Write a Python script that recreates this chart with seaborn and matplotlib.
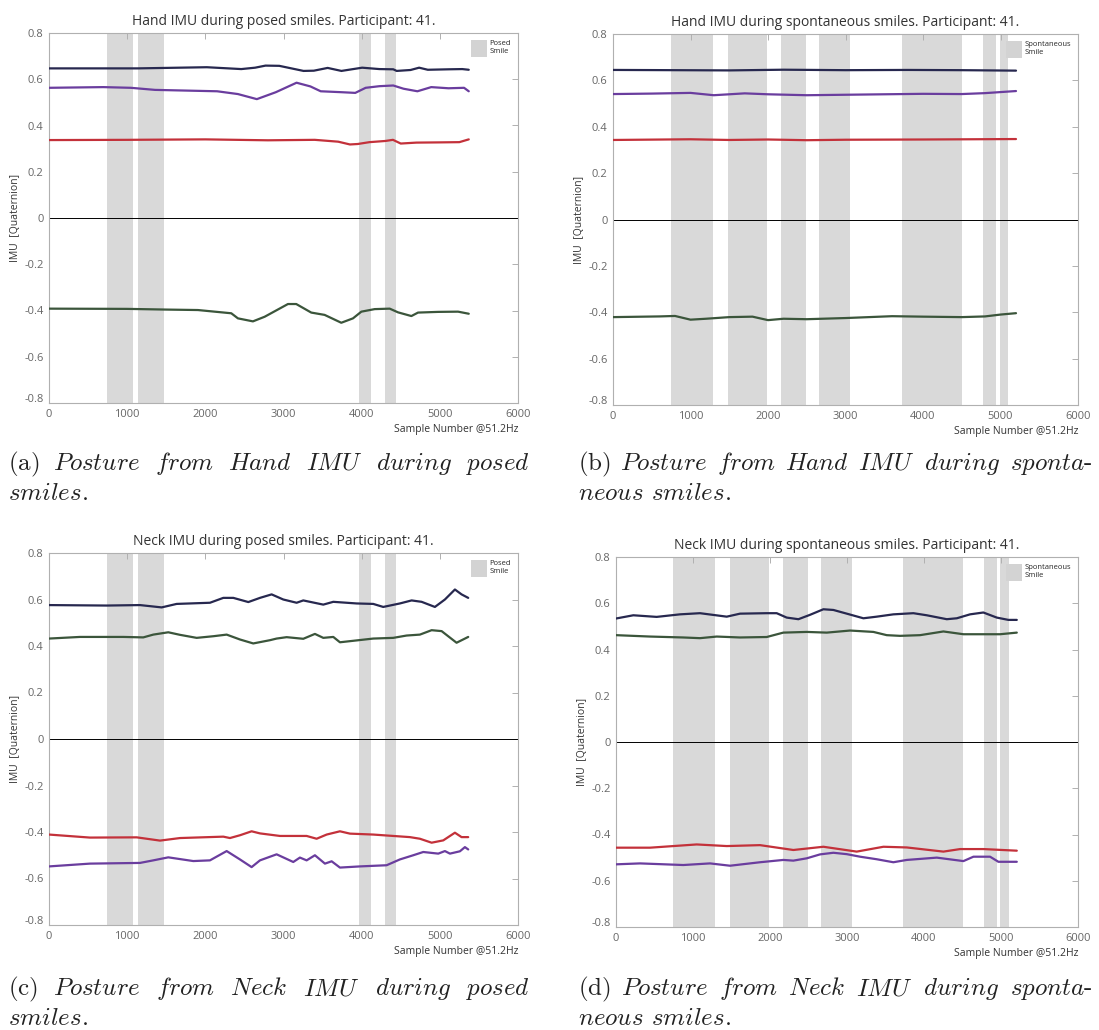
import numpy as np
import matplotlib
matplotlib.use("Agg")
import matplotlib.pyplot as plt
from matplotlib.patches import Patch
from matplotlib.transforms import ScaledTranslation
import seaborn as sns

# ---------------- data ----------------
# smile episodes (sample index start / end)
posed_start = [742, 1138, 3966, 4297]
posed_end = [1077, 1474, 4116, 4438]
spont_start = [745, 1481, 2169, 2663, 3728, 4780, 4988]
spont_end = [1286, 1983, 2490, 3061, 4503, 4945, 5101]

# (a) Hand IMU, posed smiles
a_navy_x = [0, 1135, 2019, 2460, 2637, 2770, 2946, 3256, 3388, 3565, 3741, 4006, 4227, 4404, 4448, 4625, 4735, 4846, 5111, 5287, 5370]
a_navy_y = [0.647, 0.647, 0.652, 0.644, 0.650, 0.659, 0.658, 0.636, 0.637, 0.649, 0.636, 0.650, 0.644, 0.643, 0.636, 0.640, 0.650, 0.641, 0.643, 0.644, 0.641]
a_purple_x = [0, 694, 1047, 1356, 2151, 2416, 2659, 2902, 3167, 3344, 3476, 3741, 3918, 4051, 4227, 4404, 4536, 4713, 4890, 5111, 5310, 5370]
a_purple_y = [0.563, 0.566, 0.563, 0.554, 0.548, 0.536, 0.514, 0.544, 0.585, 0.569, 0.548, 0.544, 0.541, 0.563, 0.570, 0.573, 0.559, 0.548, 0.566, 0.561, 0.563, 0.548]
a_red_x = [0, 1000, 2000, 2800, 3400, 3700, 3850, 3950, 4100, 4300, 4400, 4500, 4700, 5000, 5250, 5370]
a_red_y = [0.337, 0.338, 0.340, 0.336, 0.338, 0.330, 0.318, 0.320, 0.328, 0.333, 0.338, 0.322, 0.326, 0.327, 0.328, 0.340]
a_green_x = [0, 1000, 1500, 1905, 2332, 2417, 2609, 2759, 3057, 3163, 3355, 3526, 3739, 3889, 3996, 4167, 4359, 4465, 4636, 4721, 4977, 5233, 5370]
a_green_y = [-0.392, -0.393, -0.396, -0.398, -0.412, -0.434, -0.447, -0.427, -0.372, -0.372, -0.409, -0.419, -0.453, -0.434, -0.405, -0.394, -0.392, -0.408, -0.424, -0.409, -0.406, -0.405, -0.414]

# (b) Hand IMU, spontaneous smiles
b_navy_x = [0, 800, 1500, 2200, 3000, 3800, 4500, 5200]
b_navy_y = [0.645, 0.644, 0.643, 0.646, 0.644, 0.645, 0.644, 0.642]
b_purple_x = [0, 500, 1000, 1300, 1700, 2000, 2500, 3000, 3500, 4000, 4500, 4800, 5200]
b_purple_y = [0.541, 0.543, 0.546, 0.536, 0.544, 0.540, 0.536, 0.538, 0.540, 0.542, 0.541, 0.545, 0.554]
b_red_x = [0, 1000, 1500, 2000, 2500, 3000, 4000, 5200]
b_red_y = [0.343, 0.346, 0.343, 0.345, 0.342, 0.344, 0.345, 0.347]
b_green_x = [0, 600, 800, 1000, 1200, 1500, 1800, 2000, 2200, 2500, 3000, 3600, 4000, 4500, 4800, 5000, 5200]
b_green_y = [-0.421, -0.418, -0.416, -0.432, -0.428, -0.421, -0.419, -0.434, -0.428, -0.430, -0.425, -0.417, -0.419, -0.421, -0.418, -0.410, -0.404]

# (c) Neck IMU, posed smiles
c_navy_x = [0, 738, 1164, 1441, 1633, 2059, 2230, 2358, 2550, 2699, 2848, 2997, 3168, 3253, 3509, 3637, 3935, 4148, 4276, 4489, 4639, 4767, 4937, 5065, 5193, 5278, 5363]
c_navy_y = [0.576, 0.574, 0.576, 0.566, 0.581, 0.586, 0.607, 0.607, 0.589, 0.607, 0.622, 0.600, 0.586, 0.596, 0.578, 0.590, 0.583, 0.581, 0.568, 0.583, 0.596, 0.590, 0.568, 0.600, 0.643, 0.622, 0.607]
c_green_x = [0, 396, 951, 1206, 1334, 1526, 1676, 1889, 2101, 2273, 2443, 2613, 2827, 2912, 3040, 3253, 3402, 3509, 3637, 3722, 3935, 4148, 4404, 4575, 4745, 4895, 5023, 5214, 5363]
c_green_y = [0.432, 0.439, 0.439, 0.437, 0.449, 0.459, 0.448, 0.435, 0.442, 0.449, 0.428, 0.411, 0.425, 0.432, 0.438, 0.431, 0.452, 0.435, 0.439, 0.416, 0.424, 0.432, 0.435, 0.445, 0.449, 0.468, 0.464, 0.414, 0.439]
c_red_x = [0, 524, 1122, 1420, 1676, 2230, 2315, 2443, 2592, 2699, 2955, 3296, 3424, 3552, 3722, 3850, 4148, 4404, 4617, 4745, 4895, 5044, 5193, 5278, 5363]
c_red_y = [-0.411, -0.424, -0.423, -0.437, -0.426, -0.420, -0.426, -0.414, -0.397, -0.406, -0.417, -0.417, -0.429, -0.411, -0.397, -0.407, -0.411, -0.417, -0.422, -0.429, -0.446, -0.436, -0.403, -0.422, -0.422]
c_purple_x = [0, 524, 1164, 1334, 1526, 1846, 2059, 2273, 2443, 2592, 2699, 2912, 3125, 3210, 3296, 3402, 3530, 3616, 3722, 3978, 4319, 4489, 4660, 4788, 4980, 5065, 5129, 5257, 5321, 5363]
c_purple_y = [-0.548, -0.536, -0.533, -0.522, -0.509, -0.525, -0.522, -0.482, -0.518, -0.551, -0.522, -0.496, -0.529, -0.510, -0.522, -0.500, -0.536, -0.526, -0.553, -0.548, -0.543, -0.518, -0.500, -0.486, -0.493, -0.482, -0.493, -0.483, -0.465, -0.475]

# (d) Neck IMU, spontaneous smiles
d_navy_x = [0, 225, 528, 831, 1091, 1438, 1611, 1957, 2087, 2217, 2369, 2520, 2693, 2823, 2997, 3213, 3386, 3602, 3862, 4036, 4296, 4426, 4598, 4771, 4945, 5096, 5205]
d_navy_y = [0.534, 0.548, 0.541, 0.552, 0.557, 0.542, 0.555, 0.557, 0.557, 0.538, 0.531, 0.550, 0.574, 0.571, 0.555, 0.535, 0.542, 0.552, 0.557, 0.548, 0.531, 0.535, 0.552, 0.560, 0.538, 0.528, 0.528]
d_green_x = [0, 442, 874, 1091, 1308, 1611, 1957, 2173, 2477, 2737, 3040, 3343, 3516, 3689, 3949, 4252, 4512, 4771, 4988, 5205]
d_green_y = [0.462, 0.456, 0.452, 0.449, 0.456, 0.452, 0.454, 0.473, 0.476, 0.473, 0.482, 0.476, 0.462, 0.459, 0.462, 0.478, 0.466, 0.466, 0.466, 0.473]
d_red_x = [0, 442, 1048, 1438, 1870, 2303, 2693, 3126, 3473, 3776, 4252, 4469, 4771, 5205]
d_red_y = [-0.457, -0.457, -0.443, -0.450, -0.446, -0.467, -0.453, -0.474, -0.453, -0.456, -0.474, -0.463, -0.463, -0.470]
d_purple_x = [0, 312, 874, 1221, 1481, 1870, 2173, 2303, 2477, 2650, 2823, 2997, 3170, 3386, 3602, 3776, 4166, 4512, 4642, 4858, 4966, 5205]
d_purple_y = [-0.529, -0.525, -0.532, -0.525, -0.535, -0.520, -0.510, -0.513, -0.503, -0.486, -0.479, -0.485, -0.496, -0.507, -0.520, -0.510, -0.500, -0.515, -0.496, -0.496, -0.518, -0.518]

titles = ["Hand IMU during posed smiles. Participant: 41.",
          "Hand IMU during spontaneous smiles. Participant: 41.",
          "Neck IMU during posed smiles. Participant: 41.",
          "Neck IMU during spontaneous smiles. Participant: 41."]
legend_labels = ["Posed\nSmile", "Spontaneous\nSmile"]
x_ticks = [0, 1000, 2000, 3000, 4000, 5000, 6000]
y_ticks = [-0.8, -0.6, -0.4, -0.2, 0, 0.2, 0.4, 0.6, 0.8]
y_tick_labels = ["-0.8", "-0.6", "-0.4", "-0.2", "0", "0.2", "0.4", "0.6", "0.8"]
captions = [
    (["(a)", "Posture", "from", "Hand", "IMU", "during", "posed"], ["smiles."]),
    (["(b)", "Posture", "from", "Hand", "IMU", "during", "sponta-"], ["neous", "smiles."]),
    (["(c)", "Posture", "from", "Neck", "IMU", "during", "posed"], ["smiles."]),
    (["(d)", "Posture", "from", "Neck", "IMU", "during", "sponta-"], ["neous", "smiles."]),
]

# ---------------- style ----------------
sns.set_style("white")
plt.rcParams["font.family"] = ["Open Sans", "DejaVu Sans"]
plt.rcParams["mathtext.fontset"] = "cm"

NAVY = "#27284f"
PURPLE = "#6a3d9e"
RED = "#c3313a"
GREEN = "#3b553b"
SHADE = "#d9d9d9"
SPINE = "#b0b0b0"

W, H = 1099, 1030
fig = plt.figure(figsize=(W / 100, H / 100), dpi=100)


def px_axes(l, t, r, b):
    return fig.add_axes([l / W, 1 - b / H, (r - l) / W, (b - t) / H])


panels = [
    dict(box=(49, 33, 518, 403), spans=(posed_start, posed_end), leg=0,
         series=[(a_navy_x, a_navy_y, NAVY), (a_purple_x, a_purple_y, PURPLE),
                 (a_red_x, a_red_y, RED), (a_green_x, a_green_y, GREEN)]),
    dict(box=(613, 34, 1078, 405), spans=(spont_start, spont_end), leg=1,
         series=[(b_navy_x, b_navy_y, NAVY), (b_purple_x, b_purple_y, PURPLE),
                 (b_red_x, b_red_y, RED), (b_green_x, b_green_y, GREEN)]),
    dict(box=(49, 553, 518, 925), spans=(posed_start, posed_end), leg=0,
         series=[(c_navy_x, c_navy_y, NAVY), (c_green_x, c_green_y, GREEN),
                 (c_red_x, c_red_y, RED), (c_purple_x, c_purple_y, PURPLE)]),
    dict(box=(616, 557, 1078, 927), spans=(spont_start, spont_end), leg=1,
         series=[(d_navy_x, d_navy_y, NAVY), (d_green_x, d_green_y, GREEN),
                 (d_red_x, d_red_y, RED), (d_purple_x, d_purple_y, PURPLE)]),
]

for i, p in enumerate(panels):
    ax = px_axes(*p["box"])
    for s, e in zip(*p["spans"]):
        ax.axvspan(s, e, color=SHADE, lw=0, zorder=0)
    ax.axhline(0, color="black", lw=0.7, zorder=1)
    for xs, ys, col in p["series"]:
        sns.lineplot(x=xs, y=ys, ax=ax, color=col, lw=1.6, estimator=None,
                     sort=False, zorder=3)
    ax.set_xlim(0, 6000)
    ax.set_ylim(-0.8, 0.8)
    ax.set_xticks(x_ticks)
    ax.set_yticks(y_ticks)
    ax.set_yticklabels(y_tick_labels)
    ax.tick_params(direction="in", top=True, right=True, length=4, width=0.7,
                   color=SPINE, labelcolor="#666666", labelsize=8, pad=4)
    for sp in ax.spines.values():
        sp.set_color(SPINE)
        sp.set_linewidth(0.8)
    # lift the lowest y label off the corner
    lab = ax.get_yticklabels()[0]
    lab.set_transform(lab.get_transform() + ScaledTranslation(0, 5 / 100, fig.dpi_scale_trans))
    ax.set_title(titles[i], fontsize=10, color="#333333", pad=6)
    ax.set_xlabel("Sample Number @51.2Hz", fontsize=7.5, color="#333333", loc="right", labelpad=3)
    ax.set_ylabel("IMU  [Quaternion]", fontsize=7.5, color="#333333", labelpad=2)
    handle = Patch(facecolor="#d3d3d3", edgecolor="none", label=legend_labels[p["leg"]])
    ax.legend(handles=[handle], loc="upper right", frameon=False, fontsize=5.5,
              handlelength=2.1, handleheight=3.0, handletextpad=0.3,
              borderaxespad=0.5, labelspacing=0.2)

# ---------------- captions (justified first line) ----------------
fig.canvas.draw()
renderer = fig.canvas.get_renderer()
CAP_SIZE = 18


def word_text(w):
    if w.startswith("("):
        return r"$\mathrm{%s}$" % w
    if w.endswith("-"):
        return r"$\mathit{%s}$-" % w[:-1]
    if w.endswith("."):
        return r"$\mathit{%s}$." % w[:-1]
    return r"$\mathit{%s}$" % w


def place_line(words, x0, x1, y, justify):
    objs = [fig.text(0, 0, word_text(w), fontsize=CAP_SIZE, family="cmr10",
                     color="#222222", va="baseline", ha="left") for w in words]
    widths = [o.get_window_extent(renderer).width for o in objs]
    if justify and len(words) > 1:
        gap = (x1 - x0 - sum(widths)) / (len(words) - 1)
    else:
        gap = 7.5
    x = x0
    for o, wdt in zip(objs, widths):
        o.set_position((x / W, 1 - y / H))
        x += wdt + gap


cap_boxes = [(8, 530, 470), (578, 1092, 470), (8, 530, 995), (578, 1092, 995)]
for (first, second), (x0, x1, y) in zip(captions, cap_boxes):
    place_line(first, x0, x1, y, True)
    place_line(second, x0, x1, y + 30, False)

fig.savefig("out.png", dpi=100)
